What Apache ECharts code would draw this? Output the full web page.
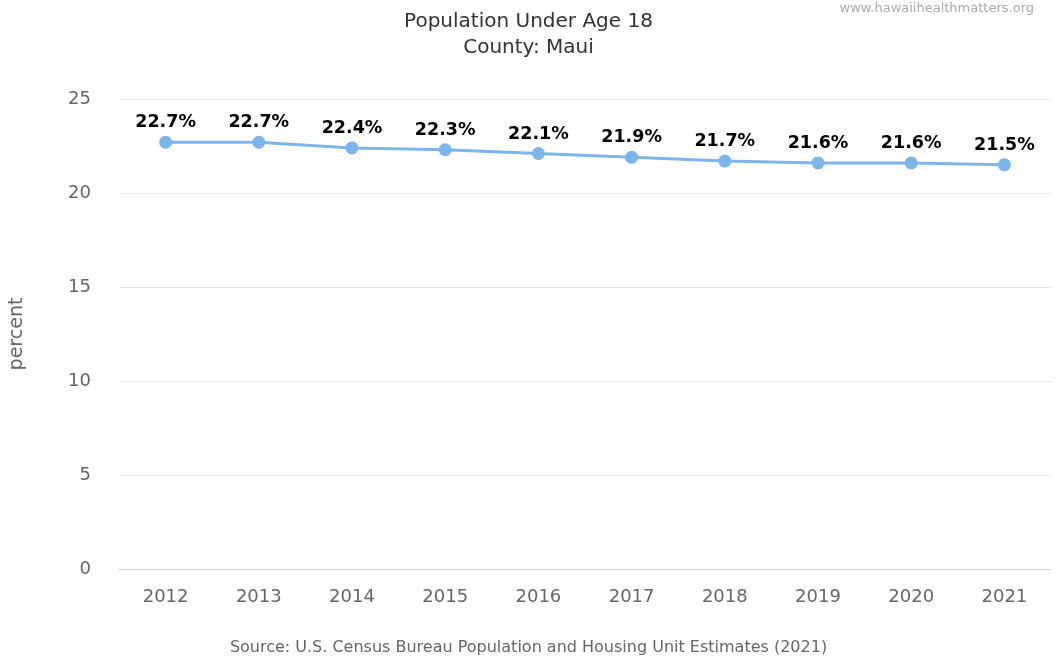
<!DOCTYPE html>
<html>
<head>
<meta charset="utf-8">
<script src="https://cdn.jsdelivr.net/npm/echarts@6/dist/echarts.min.js"></script>
<style>
  html, body { margin: 0; padding: 0; background: #fff; }
  #chart { width: 1057px; height: 659px; }
</style>
</head>
<body>
<div id="chart"></div>
<script>
// Share of population under age 18, Maui County
const years = ['2012', '2013', '2014', '2015', '2016', '2017', '2018', '2019', '2020', '2021'];
const percentUnder18 = [22.7, 22.7, 22.4, 22.3, 22.1, 21.9, 21.7, 21.6, 21.6, 21.5];
const yTicks = { min: 0, max: 25, interval: 5 };

const FONT = 'DejaVu Sans';
const chart = echarts.init(document.getElementById('chart'));

chart.setOption({
  animation: false,
  textStyle: { fontFamily: FONT },
  title: [
    {
      text: 'Population Under Age 18\nCounty: Maui',
      left: 'center',
      top: 4,
      textStyle: { fontFamily: FONT, fontSize: 20, fontWeight: 'normal', color: '#333', lineHeight: 26 }
    },
    {
      text: 'www.hawaiihealthmatters.org',
      right: 18,
      top: -3,
      textStyle: { fontFamily: FONT, fontSize: 13, fontWeight: 'normal', color: '#aaa' }
    },
    {
      text: 'Source: U.S. Census Bureau Population and Housing Unit Estimates (2021)',
      left: 'center',
      top: 635,
      textStyle: { fontFamily: FONT, fontSize: 16, fontWeight: 'normal', color: '#666' }
    }
  ],
  grid: { left: 117, right: 6, top: 99, bottom: 90, containLabel: false },
  xAxis: {
    type: 'category',
    data: years,
    boundaryGap: true,
    axisLine: { lineStyle: { color: '#ccd6eb', width: 1 } },
    axisTick: { show: false },
    axisLabel: { color: '#666', fontSize: 18, margin: 19, fontFamily: FONT }
  },
  yAxis: {
    type: 'value',
    min: yTicks.min,
    max: yTicks.max,
    interval: yTicks.interval,
    name: 'percent',
    nameLocation: 'middle',
    nameGap: 92,
    nameRotate: 90,
    nameTextStyle: { color: '#666', fontSize: 19, fontFamily: FONT },
    axisLine: { show: false },
    axisTick: { show: false },
    axisLabel: { color: '#666', fontSize: 18, margin: 28, fontFamily: FONT },
    splitLine: { lineStyle: { color: '#e6e6e6', width: 1 } }
  },
  series: [{
    type: 'line',
    data: percentUnder18,
    symbol: 'circle',
    symbolSize: 13,
    lineStyle: { color: '#7cb5ec', width: 3 },
    itemStyle: { color: '#7cb5ec' },
    label: {
      show: true,
      position: 'top',
      distance: 4,
      formatter: p => p.value.toFixed(1) + '%',
      color: '#000',
      fontSize: 17.5,
      fontWeight: 'bold',
      fontFamily: FONT
    }
  }]
});
</script>
</body>
</html>
